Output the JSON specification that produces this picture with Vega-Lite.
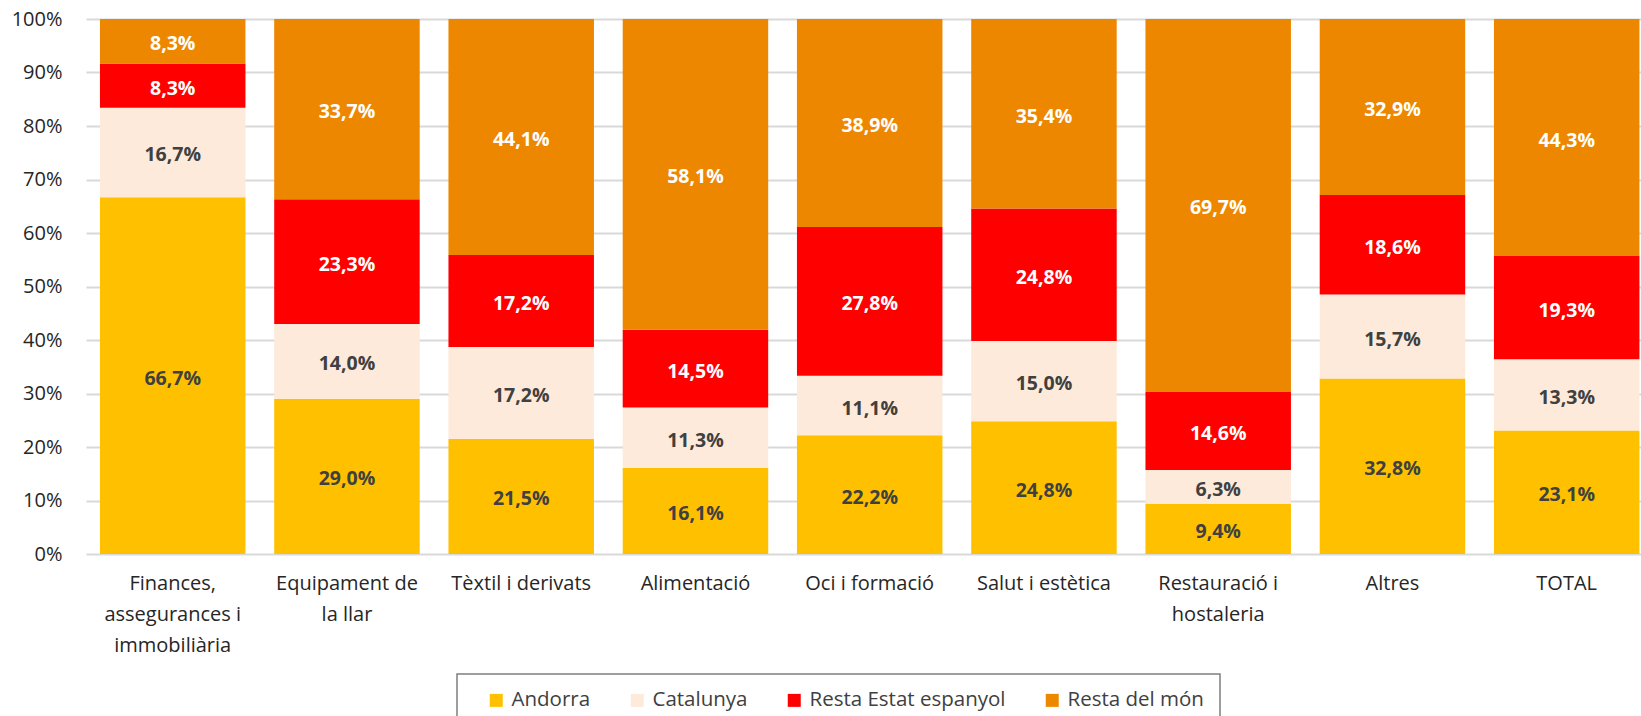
{
  "$schema": "https://vega.github.io/schema/vega-lite/v6.json",
  "autosize": {"type": "none"},
  "padding": {"left": 86, "top": 19, "right": 0, "bottom": 162},
  "width": 1555,
  "height": 535,
  "background": "white",
  "config": {
    "font": "Open Sans",
    "view": {"stroke": null},
    "legend": {"strokeColor": "#7F7F7F", "strokeWidth": 1.5},
    "locale": {"number": {"decimal": ",", "thousands": ".", "grouping": [3], "currency": ["", " €"]}}
  },
  "data": {
    "values": [
      {"sector": "Finances, assegurances i immobiliària", "origen": "Andorra", "pct": 0.667},
      {"sector": "Finances, assegurances i immobiliària", "origen": "Catalunya", "pct": 0.167},
      {"sector": "Finances, assegurances i immobiliària", "origen": "Resta Estat espanyol", "pct": 0.083},
      {"sector": "Finances, assegurances i immobiliària", "origen": "Resta del món", "pct": 0.083},
      {"sector": "Equipament de la llar", "origen": "Andorra", "pct": 0.290},
      {"sector": "Equipament de la llar", "origen": "Catalunya", "pct": 0.140},
      {"sector": "Equipament de la llar", "origen": "Resta Estat espanyol", "pct": 0.233},
      {"sector": "Equipament de la llar", "origen": "Resta del món", "pct": 0.337},
      {"sector": "Tèxtil i derivats", "origen": "Andorra", "pct": 0.215},
      {"sector": "Tèxtil i derivats", "origen": "Catalunya", "pct": 0.172},
      {"sector": "Tèxtil i derivats", "origen": "Resta Estat espanyol", "pct": 0.172},
      {"sector": "Tèxtil i derivats", "origen": "Resta del món", "pct": 0.441},
      {"sector": "Alimentació", "origen": "Andorra", "pct": 0.161},
      {"sector": "Alimentació", "origen": "Catalunya", "pct": 0.113},
      {"sector": "Alimentació", "origen": "Resta Estat espanyol", "pct": 0.145},
      {"sector": "Alimentació", "origen": "Resta del món", "pct": 0.581},
      {"sector": "Oci i formació", "origen": "Andorra", "pct": 0.222},
      {"sector": "Oci i formació", "origen": "Catalunya", "pct": 0.111},
      {"sector": "Oci i formació", "origen": "Resta Estat espanyol", "pct": 0.278},
      {"sector": "Oci i formació", "origen": "Resta del món", "pct": 0.389},
      {"sector": "Salut i estètica", "origen": "Andorra", "pct": 0.248},
      {"sector": "Salut i estètica", "origen": "Catalunya", "pct": 0.150},
      {"sector": "Salut i estètica", "origen": "Resta Estat espanyol", "pct": 0.248},
      {"sector": "Salut i estètica", "origen": "Resta del món", "pct": 0.354},
      {"sector": "Restauració i hostaleria", "origen": "Andorra", "pct": 0.094},
      {"sector": "Restauració i hostaleria", "origen": "Catalunya", "pct": 0.063},
      {"sector": "Restauració i hostaleria", "origen": "Resta Estat espanyol", "pct": 0.146},
      {"sector": "Restauració i hostaleria", "origen": "Resta del món", "pct": 0.697},
      {"sector": "Altres", "origen": "Andorra", "pct": 0.328},
      {"sector": "Altres", "origen": "Catalunya", "pct": 0.157},
      {"sector": "Altres", "origen": "Resta Estat espanyol", "pct": 0.186},
      {"sector": "Altres", "origen": "Resta del món", "pct": 0.329},
      {"sector": "TOTAL", "origen": "Andorra", "pct": 0.231},
      {"sector": "TOTAL", "origen": "Catalunya", "pct": 0.133},
      {"sector": "TOTAL", "origen": "Resta Estat espanyol", "pct": 0.193},
      {"sector": "TOTAL", "origen": "Resta del món", "pct": 0.443}
    ]
  },
  "transform": [
    {"stack": "pct", "groupby": ["sector"], "sort": [{"field": "origen", "order": "ascending"}], "as": ["y0", "y1"]},
    {"calculate": "(datum.y0 + datum.y1) / 2", "as": "ymid"}
  ],
  "encoding": {
    "x": {
      "field": "sector",
      "type": "nominal",
      "sort": null,
      "scale": {"paddingInner": 0.165, "paddingOuter": 0.0445, "align": 0.9},
      "axis": {
        "title": null,
        "labelAngle": 0,
        "domain": false,
        "ticks": false,
        "labelPadding": 19,
        "labelFontSize": 20,
        "labelColor": "#262626",
        "labelLineHeight": 31,
        "labelBaseline": "top",
        "labelExpr": "datum.value == 'Finances, assegurances i immobiliària' ? ['Finances,', 'assegurances i', 'immobiliària'] : datum.value == 'Equipament de la llar' ? ['Equipament de', 'la llar'] : datum.value == 'Restauració i hostaleria' ? ['Restauració i', 'hostaleria'] : datum.value"
      }
    }
  },
  "layer": [
    {
      "mark": {"type": "bar"},
      "encoding": {
        "y": {
          "field": "y0",
          "type": "quantitative",
          "scale": {"domain": [0, 1], "nice": false},
          "axis": {
            "title": null,
            "format": ".0%",
            "values": [0, 0.1, 0.2, 0.3, 0.4, 0.5, 0.6, 0.7, 0.8, 0.9, 1],
            "domain": false,
            "ticks": false,
            "labelPadding": 24,
            "labelFontSize": 20,
            "labelColor": "#262626",
            "gridColor": "#D9D9D9",
            "gridWidth": 2
          }
        },
        "y2": {"field": "y1"},
        "color": {
          "field": "origen",
          "type": "nominal",
          "scale": {
            "domain": ["Andorra", "Catalunya", "Resta Estat espanyol", "Resta del món"],
            "range": ["#FFC000", "#FDEADA", "#FF0000", "#EE8700"]
          },
          "legend": {
            "orient": "none",
            "legendX": 371,
            "legendY": 655,
            "direction": "horizontal",
            "title": " ",
            "titleFontSize": 1,
            "titleOrient": "left",
            "titlePadding": 13,
            "symbolType": "square",
            "symbolSize": 169,
            "symbolStrokeWidth": 0,
            "labelFontSize": 20.5,
            "labelLimit": 0,
            "labelColor": "#404040",
            "labelOffset": 5,
            "columnPadding": 36,
            "padding": 16,
            "strokeColor": "#7F7F7F"
          }
        }
      }
    },
    {
      "mark": {"type": "text", "fontWeight": "bold", "fontSize": 19.5, "baseline": "middle", "dy": 3},
      "encoding": {
        "y": {"field": "ymid", "type": "quantitative"},
        "text": {"field": "pct", "type": "quantitative", "format": ".1%"},
        "color": {
          "condition": {"test": "datum.origen == 'Andorra' || datum.origen == 'Catalunya'", "value": "#404040"},
          "value": "#FFFFFF"
        }
      }
    }
  ]
}
